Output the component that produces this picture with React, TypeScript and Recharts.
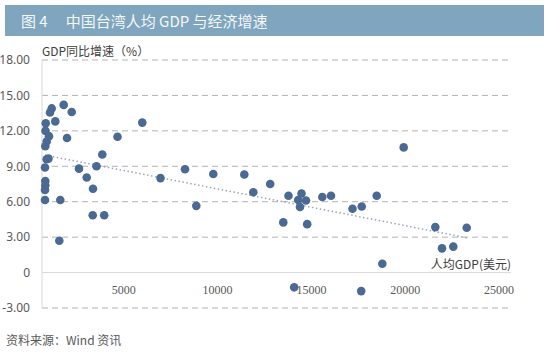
import React from 'react';
import { ScatterChart, Scatter, XAxis, YAxis, CartesianGrid, ReferenceLine } from 'recharts';

// 人均GDP（美元）
const gdpPerCapita = [
  1157, 1583, 517, 426, 200, 709, 187, 373, 250, 176, 1333, 5346, 4025, 3214, 2905, 1972,
  2383, 2718, 6316, 7623, 9131, 10784, 8225, 11264, 12164, 13140, 13833, 13657, 14072, 13753,
  12862, 14136, 14941, 15405, 16551, 17042, 17841, 19280, 18140, 20965, 22639, 21322, 21924,
  13443, 17015, 250, 346, 160, 176, 176, 160, 160, 975, 922, 2703, 3316,
];

// GDP同比增速（%）
const gdpGrowth = [
  14.2, 13.6, 13.9, 13.55, 12.65, 12.8, 12.0, 11.55, 11.1, 10.7, 11.4, 12.7, 11.5, 10.0, 9.0, 8.8,
  8.05, 7.1, 8.0, 8.75, 8.35, 8.3, 5.65, 6.8, 7.5, 6.5, 6.7, 6.15, 6.1, 5.55,
  4.25, 4.1, 6.4, 6.5, 5.4, 5.6, 6.5, 10.6, 0.75, 3.85, 3.8, 2.05, 2.2,
  -1.25, -1.57, 9.6, 9.65, 8.9, 7.75, 7.4, 7.0, 6.15, 6.15, 2.7, 4.85, 4.85,
];

// 线性趋势线两端
const trendX = [160, 22640];
const trendY = [9.95, 2.95];

const xTicks = [0, 5000, 10000, 15000, 20000, 25000];
const yTicks = [-3, 0, 3, 6, 9, 12, 15, 18];

const points = gdpPerCapita.map((x, i) => ({ x, y: gdpGrowth[i] }));
const trend = trendX.map((x, i) => ({ x, y: trendY[i] }));

const DOT = '#4a6a94';

const XTick = ({ x, y, payload }: any) => {
  if (payload.value === 0) return null;
  return (
    <text x={x - 12} y={y - 22} textAnchor="middle" fontSize={12} fill="#595959"
      fontFamily="'Liberation Serif', 'DejaVu Serif', serif">
      {payload.value}
    </text>
  );
};

const App = () => {
  return (
    <div style={{ position: 'absolute', left: 0, top: 0, width: 550, height: 353, background: '#fff', fontFamily: "'Noto Sans CJK SC', sans-serif" }}>
      <div style={{
        position: 'absolute', left: 5, top: 5, width: 539, height: 31, background: '#7fa6be',
        color: '#f4f7f9', fontSize: 15, lineHeight: '31px', paddingLeft: 16, boxSizing: 'border-box',
      }}>
        图 4<span style={{ marginLeft: 18 }}>中国台湾人均 GDP 与经济增速</span>
      </div>

      <div style={{ position: 'absolute', left: 0, top: 0 }}>
        <ScatterChart width={550} height={353} margin={{ top: 60, right: 39, bottom: 15, left: 0 }}>
          <CartesianGrid vertical={false} horizontalValues={[-3, 3, 6, 9, 12, 15, 18]}
            stroke="#b3b3b3" strokeDasharray="6 4" />
          <XAxis type="number" dataKey="x" domain={[0, 25000]} ticks={xTicks} height={30}
            axisLine={false} tickLine={false} tick={<XTick />} />
          <YAxis type="number" dataKey="y" domain={[-3, 18]} ticks={yTicks} width={42}
            axisLine={{ stroke: '#d9d9d9' }} tickLine={false} tickMargin={6}
            tick={{ fontSize: 12, fill: '#595959', fontFamily: "'Noto Sans', sans-serif" }}
            tickFormatter={(v: number) => (v === 0 ? '0' : v.toFixed(2))} />
          <ReferenceLine y={0} stroke="#d9d9d9" />
          <Scatter data={trend} line={{ stroke: '#9aa6b8', strokeWidth: 1.5, strokeDasharray: '1.5 2.5' }}
            shape={() => <g />} isAnimationActive={false} />
          <Scatter data={points} fill={DOT} isAnimationActive={false}
            shape={(p: any) => <circle cx={p.cx} cy={p.cy} r={4.3} fill={DOT} />} />
          <text x={42} y={56} fontSize={12} fill="#404040">GDP同比增速（%）</text>
          <text x={511} y={269} fontSize={12} fill="#404040" textAnchor="end">人均GDP(美元)</text>
        </ScatterChart>
      </div>

      <div style={{ position: 'absolute', left: 6, top: 331, fontSize: 12, color: '#595959' }}>
        资料来源：Wind 资讯
      </div>
    </div>
  );
};

export default App;
